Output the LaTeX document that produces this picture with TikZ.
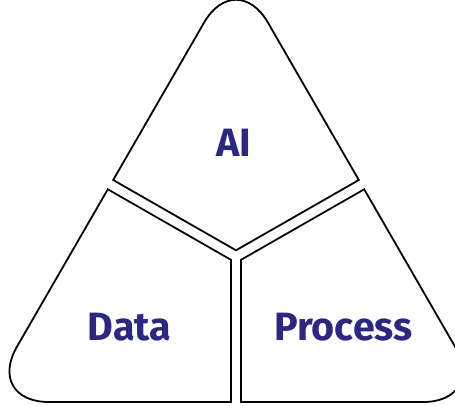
\documentclass[tikz,border=0pt]{standalone}
\usepackage{fontspec}
\setmainfont{Fira Sans}
\usetikzlibrary{calc}
\definecolor{labelblue}{RGB}{44,40,128}
\begin{document}
\begin{tikzpicture}[x=1pt,y=-1pt,
  outline/.style={draw=black,line width=1.8pt,rounded corners=64pt},
  blackband/.style={draw=black,line width=12.5pt,miter limit=10},
  whiteband/.style={draw=white,line width=8.7pt,miter limit=10},
  lbl/.style={text=labelblue,font=\bfseries\fontsize{39.5}{44}\selectfont,inner sep=0pt}]
\useasboundingbox (0,0) rectangle (455,405);
\coordinate (L) at (-15,402);
\coordinate (R) at (487,402);
\coordinate (T) at (236,-32.7);
\coordinate (C) at (236,256.5);
\coordinate (MB) at (236,402);
\coordinate (ML) at ($(L)!0.5!(T)$);
\coordinate (MR) at ($(R)!0.5!(T)$);
\coordinate (EL) at ($(C)!1.25!(ML)$);
\coordinate (ER) at ($(C)!1.25!(MR)$);
\coordinate (EB) at ($(C)!1.25!(MB)$);
\begin{scope}
  \clip[rounded corners=64pt] (MB) -- (L) -- (T) -- (R) -- cycle;
  \draw[blackband] (EL) -- (C) -- (ER);
  \draw[blackband] (C) -- (EB);
\end{scope}
\draw[outline] (MB) -- (L) -- (T) -- (R) -- cycle;
\draw[whiteband] (EL) -- (C) -- (ER);
\draw[whiteband] (C) -- (EB);
\node[lbl] (ai) at (233.5,142.5) {AI};
\node[lbl] (data) at (129.5,327.5) {Data};
\node[lbl] (process) at (343.5,327.5) {Process};
\end{tikzpicture}
\end{document}
